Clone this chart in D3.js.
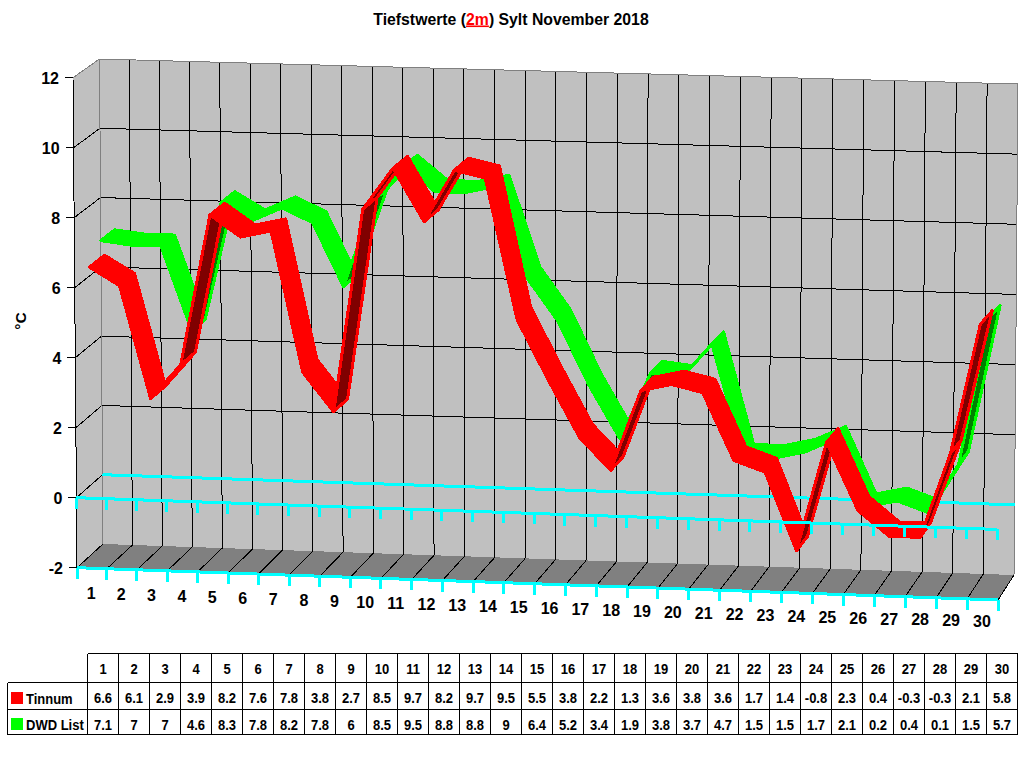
<!DOCTYPE html>
<html>
<head>
<meta charset="utf-8">
<script src="https://d3js.org/d3.v7.min.js"></script>
<style>
html,body{margin:0;padding:0;background:#fff}
svg{display:block}
text{font-family:"Liberation Sans",Arial,sans-serif;font-weight:bold;fill:#000}
</style>
</head>
<body>
<div id="chart"></div>
<script>
const days = d3.range(1, 31);
const tinnum = [6.6,6.1,2.9,3.9,8.2,7.6,7.8,3.8,2.7,8.5,9.7,8.2,9.7,9.5,5.5,3.8,2.2,1.3,3.6,3.8,3.6,1.7,1.4,-0.8,2.3,0.4,-0.3,-0.3,2.1,5.8];
const dwdList = [7.1,7,7,4.6,8.3,7.8,8.2,7.8,6,8.5,9.5,8.8,8.8,9,6.4,5.2,3.4,1.9,3.8,3.7,4.7,1.5,1.5,1.7,2.1,0.2,0.4,0.1,1.5,5.7];
const valueTicks = [-2,0,2,4,6,8,10,12];

const svg = d3.select("#chart").append("svg").attr("width",1024).attr("height",768);

// Box corners of the 3D plot: [bottom, top] for each vertical edge.
const frontLeft  = [[77,567.7],[73,77.7]];
const frontRight = [[998,600],[994,106]];
const backLeft   = [[103,544],[99.5,59]];
const backRight  = [[1014,575],[1018,84]];

// Slight power curve: day spacing grows a little toward the viewer on the right.
const tScale = d3.scalePow().exponent(1.009).domain([0,30]).range([0,1]);
const vScale = d3.scaleLinear().domain([-2,12]).range([0,1]);

// Position on the box: t runs along the days, v is the value, z is depth (0 front, 1 back).
function project(t, v, z) {
  const a = tScale(t), b = vScale(v);
  const edge = e => [e[0][0]+(e[1][0]-e[0][0])*b, e[0][1]+(e[1][1]-e[0][1])*b];
  const fl = edge(frontLeft), fr = edge(frontRight), bl = edge(backLeft), br = edge(backRight);
  const f = d3.interpolateArray(fl, fr)(a), k = d3.interpolateArray(bl, br)(a);
  return d3.interpolateArray(f, k)(z);
}
const seg = (g, p, q, color, w) => g.append("line")
  .attr("x1",p[0]).attr("y1",p[1]).attr("x2",q[0]).attr("y2",q[1])
  .attr("stroke",color).attr("stroke-width",w||1).attr("shape-rendering","crispEdges");
const poly = (g, pts, fill, stroke, w) => g.append("polygon")
  .attr("points",pts.map(p=>p.join(",")).join(" "))
  .attr("fill",fill).attr("stroke",stroke||"none").attr("stroke-width",w||0)
  .attr("stroke-linejoin","round").attr("shape-rendering","crispEdges");

// Walls and floor
const walls = svg.append("g");
poly(walls, [project(0,12,1),project(30,12,1),project(30,-2,1),project(0,-2,1)], "#c0c0c0");
poly(walls, [project(0,12,0),project(0,12,1),project(0,-2,1),project(0,-2,0)], "#c0c0c0");
poly(walls, [project(0,-2,0),project(30,-2,0),project(30,-2,1),project(0,-2,1)], "#808080");

// Gridlines
d3.range(1,30).forEach(t => seg(walls, project(t,12,1), project(t,-2,1), "#000"));
d3.range(1,31).forEach(t => seg(walls, project(t,-2,0), project(t,-2,1), "#000"));
valueTicks.forEach(v => {
  if (v>-2 && v<12) seg(walls, project(0,v,1), project(30,v,1), "#000");
  if (v<12) seg(walls, project(0,v,0), project(0,v,1), "#000");
});
seg(walls, project(0,12,0), project(0,12,1), "#808080");
seg(walls, project(0,12,1), project(30,12,1), "#808080");
seg(walls, project(0,12,1), project(0,-2,1), "#808080");
seg(walls, project(30,12,1), project(30,-2,1), "#808080");
seg(walls, project(0,12,0), project(0,-2,0), "#000");

// Value axis ticks and labels
valueTicks.forEach(v => {
  const p = project(0,v,0);
  seg(svg, [p[0]-8,p[1]], p, "#000");
  svg.append("text").attr("x",p[0]-14).attr("y",p[1]+6).attr("text-anchor","end")
    .attr("font-size",16).text(v);
});

// Cyan line along value 0 (front and back) and along the front floor edge
const cyan = "#00ffff";
function cyanAxis(g, v, z, ticks) {
  seg(g, project(0,v,z), project(30,v,z), cyan, 3);
  if (ticks) d3.range(0,31).forEach(t => {
    const p = project(t,v,z);
    seg(g, p, [p[0],p[1]+11], cyan, 3);
  });
}
cyanAxis(svg.append("g"), 0, 1, false);

// Each series is a ribbon: a quad per day-to-day step between two depths.
function ribbon(values, z0, z1, bright, dark) {
  const g = svg.append("g");
  values.forEach((v,i) => {
    if (i === values.length-1) return;
    const a = project(i+.5,v,z0), b = project(i+1.5,values[i+1],z0);
    const c = project(i+1.5,values[i+1],z1), d = project(i+.5,v,z1);
    const cross = (b[0]-a[0])*(d[1]-a[1])-(b[1]-a[1])*(d[0]-a[0]);
    // The underside of the ribbon shows when the quad winds the other way.
    // Both faces are outlined in the series colour.
    poly(g, [a,b,c,d], cross > 0 ? dark : bright, bright, 3);
  });
}
ribbon(dwdList, 0.44, 0.97, "#00ff00", "#008000");
ribbon(tinnum, 0, 0.58, "#ff0000", "#800000");

cyanAxis(svg.append("g"), 0, 0, true);
cyanAxis(svg.append("g"), -2, 0, true);

// Day labels under the front edge
days.forEach((d,i) => {
  const p = project(i+.5,-2,0);
  svg.append("text").attr("x",p[0]-0.5).attr("y",p[1]+31-3*i/29).attr("text-anchor","middle")
    .attr("font-size",16).text(d);
});

// Title with the underlined red height marker
const title = svg.append("text").attr("x",511).attr("y",24.5).attr("text-anchor","middle").attr("font-size",15.8);
title.append("tspan").text("Tiefstwerte (");
title.append("tspan").style("fill","#ff0000").attr("text-decoration","underline").text("2m");
title.append("tspan").text(") Sylt November 2018");

// Axis title
svg.append("text").attr("transform","translate(26,321) rotate(-90)").attr("text-anchor","middle")
  .attr("font-size",15.5).text("°C");

// Data table
const tableX = d3.scaleLinear().domain([0,30]).range([87.5,1017.5]);
const rowY = [653.5,682.5,709.5,734.5];
const table = svg.append("g");
const tline = (x1,y1,x2,y2) => table.append("line").attr("x1",x1).attr("y1",y1).attr("x2",x2).attr("y2",y2)
  .attr("stroke","#000").attr("shape-rendering","crispEdges");
d3.range(0,31).forEach(i => tline(tableX(i),rowY[0],tableX(i),rowY[3]));
tline(tableX(0),rowY[0],tableX(30),rowY[0]);
[1,2,3].forEach(r => tline(7.5,rowY[r],tableX(30),rowY[r]));
tline(7.5,rowY[1],7.5,rowY[3]);
// Table glyphs are drawn a little taller than their width would suggest.
const tallText = (x,y,anchor,s) => table.append("text")
  .attr("transform",`translate(${x},${y}) scale(1,1.13)`)
  .attr("text-anchor",anchor).attr("font-size",13).text(s);
days.forEach((d,i) => {
  const x = tableX(i)+15.5;
  tallText(x,673.5,"middle",d);
  tallText(x,703,"middle",tinnum[i]);
  tallText(x,729.5,"middle",dwdList[i]);
});
table.append("rect").attr("x",11).attr("y",692).attr("width",12).attr("height",12).attr("fill","#ff0000");
table.append("rect").attr("x",11).attr("y",718).attr("width",12).attr("height",12).attr("fill","#00ff00");
tallText(26,704,"start","Tinnum");
tallText(26,730,"start","DWD List");
</script>
</body>
</html>
